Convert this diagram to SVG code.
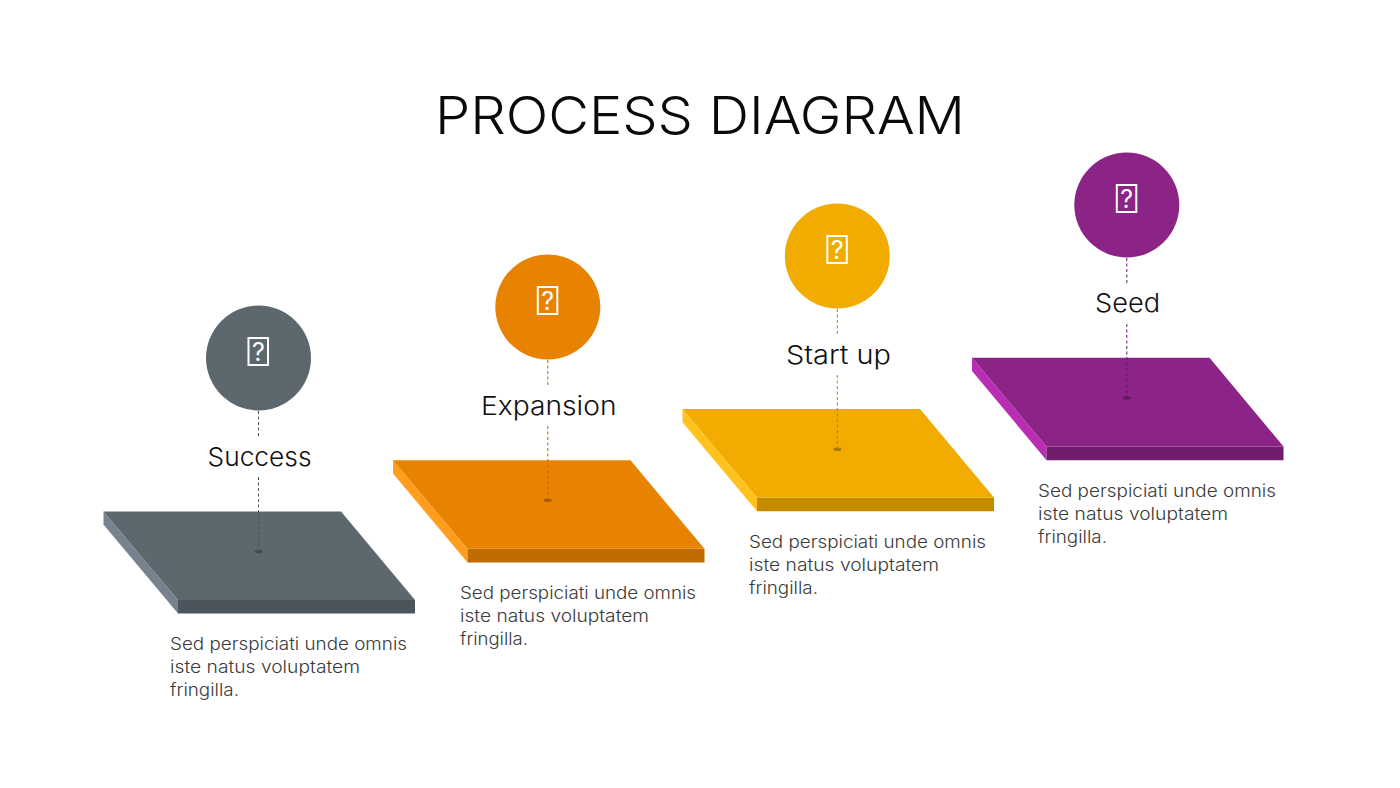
<svg xmlns="http://www.w3.org/2000/svg" width="1400" height="788" viewBox="0 0 1400 788">
<style>
text{font-family:"Inter","Noto Sans","Liberation Sans",sans-serif}
.title{font-size:52px;fill:#0a0a0a;font-weight:300}
.label{font-size:26px;fill:#111;font-weight:300}
.body{font-size:17px;fill:#3a3a3a;font-weight:300}
.q{font-size:25px;fill:#fff;font-weight:400;text-anchor:middle}
.box{fill:none;stroke:#fff;stroke-width:2}
.link{fill:none;stroke-width:1;stroke-dasharray:3 2.5}
.grey .top,.grey .disc{fill:#5d686e}.grey .side{fill:#76828e}.grey .front{fill:#4b555b}
.orange .top,.orange .disc{fill:#e88302}.orange .side{fill:#ff9d1e}.orange .front{fill:#bf6c02}
.yellow .top,.yellow .disc{fill:#f2ab00}.yellow .side{fill:#ffc21f}.yellow .front{fill:#c48b00}
.purple .top,.purple .disc{fill:#8c2386}.purple .side{fill:#b92db2}.purple .front{fill:#711c6c}
</style>
<rect width="1400" height="788" fill="#fff"/>
<text id="title" class="title" x="435" y="134" textLength="530" lengthAdjust="spacingAndGlyphs">PROCESS DIAGRAM</text>

<g id="node-success" class="grey">
<polygon class="side" points="103.500,511.500 178,600 178,613.500 103.500,524.500"/>
<polygon class="front" points="178,600 415,600 415,613.500 178,613.500"/>
<polygon class="top" points="103.500,511.500 341,511.500 415,600 178,600"/>
<circle class="disc" cx="258.500" cy="358" r="52.500"/>
<rect class="box" x="248.500" y="338" width="19.500" height="27"/>
<text class="q" x="258.300" y="360.500">?</text>
<text class="label" x="207.500" y="466" textLength="104" lengthAdjust="spacingAndGlyphs">Success</text>
<text class="body" x="170" y="650" textLength="237" lengthAdjust="spacingAndGlyphs">Sed perspiciati unde omnis</text>
<text class="body" x="170" y="673" textLength="190" lengthAdjust="spacingAndGlyphs">iste natus voluptatem</text>
<text class="body" x="170" y="696" textLength="69" lengthAdjust="spacingAndGlyphs">fringilla.</text>
</g>

<g id="node-expansion" class="orange">
<polygon class="side" points="393,460.300 467.500,548.800 467.500,562.500 393,473.500"/>
<polygon class="front" points="467.500,548.800 704.500,548.800 704.500,562.500 467.500,562.500"/>
<polygon class="top" points="393,460.300 630.500,460.300 704.500,548.800 467.500,548.800"/>
<circle class="disc" cx="547.800" cy="307" r="52.500"/>
<rect class="box" x="537.800" y="287" width="19.500" height="27"/>
<text class="q" x="547.600" y="309.500">?</text>
<text class="label" x="481" y="415" textLength="135.500" lengthAdjust="spacingAndGlyphs">Expansion</text>
<text class="body" x="460" y="599" textLength="236" lengthAdjust="spacingAndGlyphs">Sed perspiciati unde omnis</text>
<text class="body" x="460" y="622" textLength="189" lengthAdjust="spacingAndGlyphs">iste natus voluptatem</text>
<text class="body" x="460" y="645" textLength="68" lengthAdjust="spacingAndGlyphs">fringilla.</text>
</g>

<g id="node-startup" class="yellow">
<polygon class="side" points="682.500,409 757,497.500 757,511.300 682.500,422.300"/>
<polygon class="front" points="757,497.500 994,497.500 994,511.300 757,511.300"/>
<polygon class="top" points="682.500,409 920,409 994,497.500 757,497.500"/>
<circle class="disc" cx="837.300" cy="256" r="52.500"/>
<rect class="box" x="827.300" y="236" width="19.500" height="27"/>
<text class="q" x="837.100" y="258.500">?</text>
<text class="label" x="786" y="364" textLength="105" lengthAdjust="spacingAndGlyphs">Start up</text>
<text class="body" x="749" y="548" textLength="237" lengthAdjust="spacingAndGlyphs">Sed perspiciati unde omnis</text>
<text class="body" x="749" y="571" textLength="190" lengthAdjust="spacingAndGlyphs">iste natus voluptatem</text>
<text class="body" x="749" y="594" textLength="69" lengthAdjust="spacingAndGlyphs">fringilla.</text>
</g>

<g id="node-seed" class="purple">
<polygon class="side" points="972,357.800 1046.500,446.500 1046.500,460.200 972,371"/>
<polygon class="front" points="1046.500,446.500 1283.500,446.500 1283.500,460.200 1046.500,460.200"/>
<polygon class="top" points="972,357.800 1209.500,357.800 1283.500,446.500 1046.500,446.500"/>
<circle class="disc" cx="1126.800" cy="205" r="52.500"/>
<rect class="box" x="1116.800" y="185" width="19.500" height="27"/>
<text class="q" x="1126.600" y="207.500">?</text>
<text class="label" x="1095" y="312" textLength="65" lengthAdjust="spacingAndGlyphs">Seed</text>
<text class="body" x="1038" y="497" textLength="238" lengthAdjust="spacingAndGlyphs">Sed perspiciati unde omnis</text>
<text class="body" x="1038" y="520" textLength="190" lengthAdjust="spacingAndGlyphs">iste natus voluptatem</text>
<text class="body" x="1038" y="543" textLength="69" lengthAdjust="spacingAndGlyphs">fringilla.</text>
</g>

<g id="connectors">
<path class="link" stroke="#4b555b" d="M258.500 411V438M258.500 477V551"/>
<ellipse cx="258.500" cy="551.500" rx="4" ry="1.800" fill="#434c52"/>
<path class="link" stroke="#b06a10" d="M547.800 360V387M547.800 426V500"/>
<ellipse cx="547.800" cy="500.300" rx="4" ry="1.800" fill="#a55e03"/>
<path class="link" stroke="#b68100" d="M837.300 309V336M837.300 375V449"/>
<ellipse cx="837.300" cy="449.300" rx="4" ry="1.800" fill="#a87800"/>
<path class="link" stroke="#5f1a6b" d="M1126.800 258V285M1126.800 324V398"/>
<ellipse cx="1126.800" cy="398" rx="4" ry="1.800" fill="#641860"/>
</g>
</svg>
